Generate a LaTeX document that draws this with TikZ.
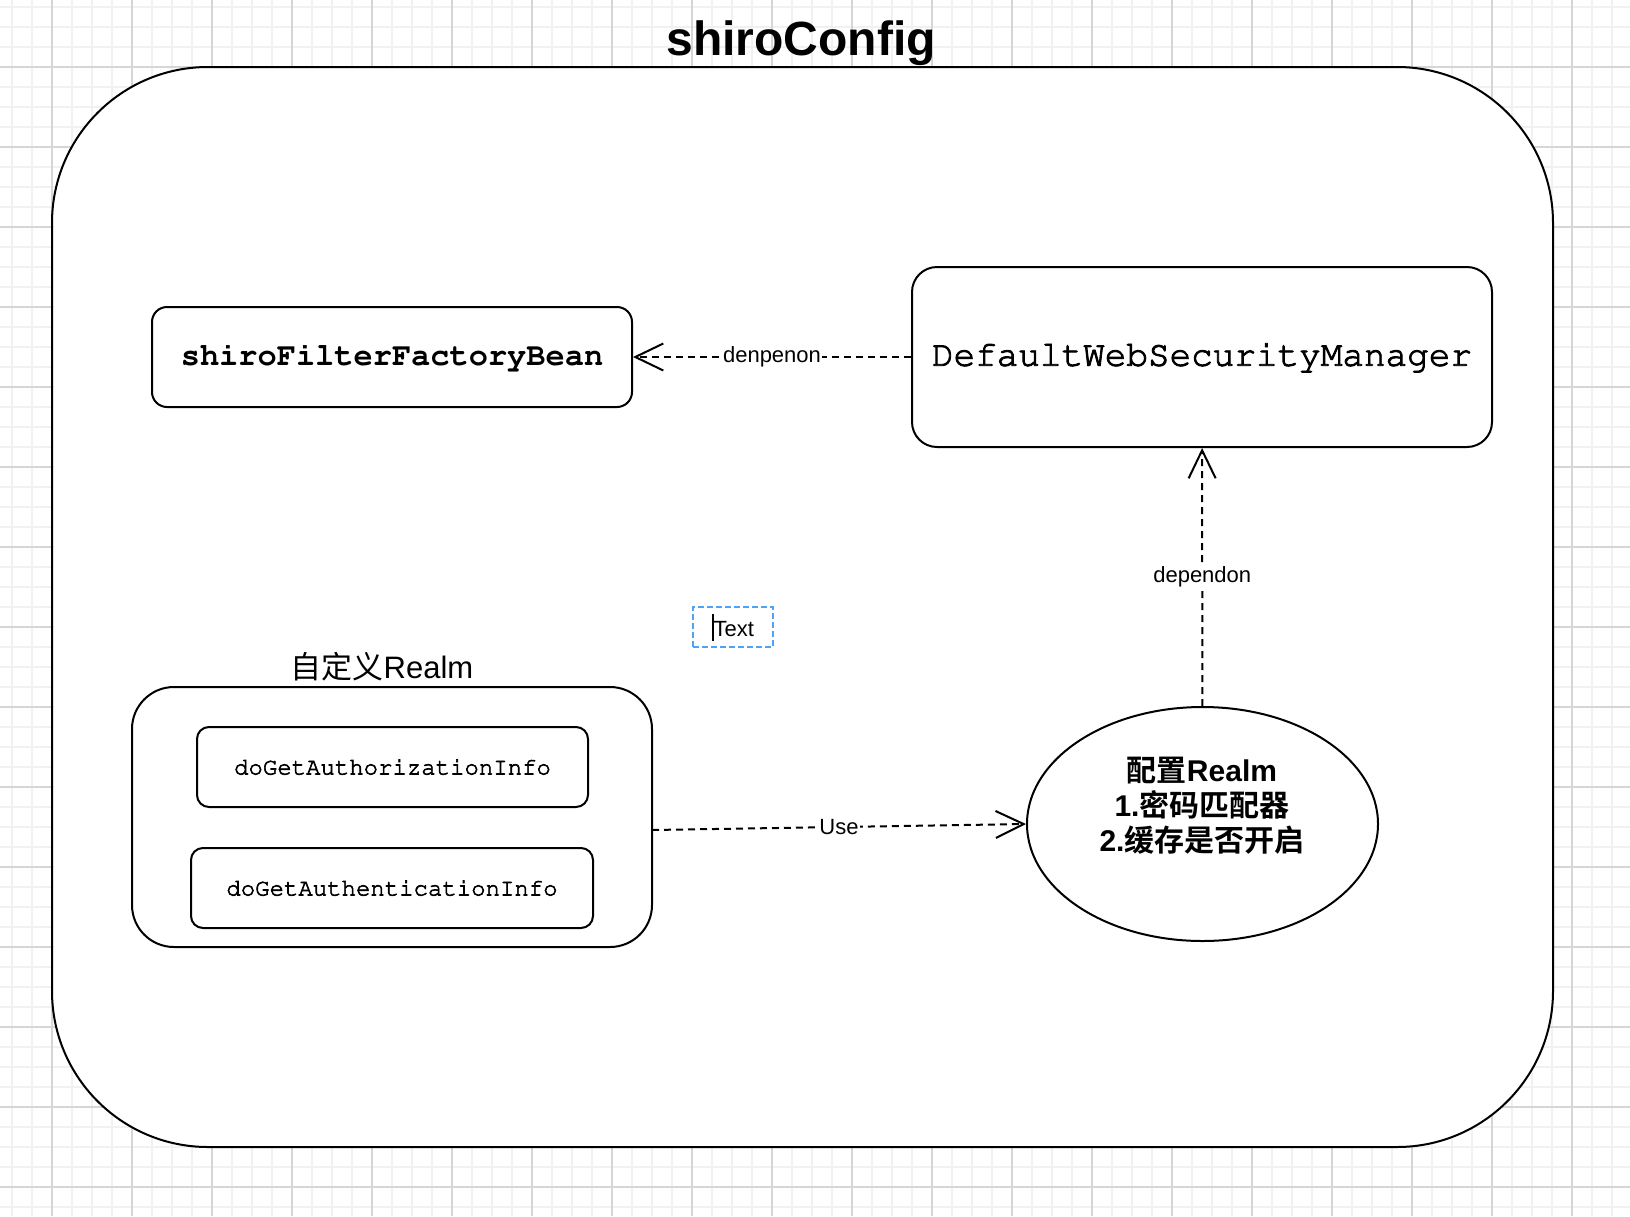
\documentclass[tikz,border=0pt]{standalone}
\usepackage[T1]{fontenc}
\usepackage{fontspec}
\setmainfont{Liberation Sans}
\setmonofont{Liberation Mono}
\newfontfamily\cjk{Noto Sans CJK SC}[BoldFont={Noto Sans CJK SC Bold}]
\usetikzlibrary{arrows.meta,shapes.geometric}
\definecolor{gridminor}{RGB}{241,241,241}
\definecolor{gridmajor}{RGB}{214,214,214}
\definecolor{selblue}{RGB}{77,163,245}
\newcommand{\setfs}[1]{\fontsize{#1}{#1}\selectfont}
\newcommand{\courierfam}{\fontencoding{T1}\fontfamily{pcr}\selectfont}
\newcommand{\heavytext}[2]{\special{pdf:literal direct 2 Tr #1 w}#2\special{pdf:literal direct 0 Tr}}
\begin{document}
\begin{tikzpicture}[x=1pt,y=-1pt,
  roundbox/.style={draw,line width=2pt,fill=white,rectangle,inner sep=0pt},
  deparrow/.style={line width=2pt,dash pattern=on 7pt off 5pt,-{Straight Barb[length=28pt,width=27pt]}},
  lbl/.style={fill=white,inner sep=1.5pt,font=\setfs{22}},
  minorline/.style={draw=gridminor,line width=1.2pt},
  majorline/.style={draw=gridmajor,line width=1.2pt}]
\useasboundingbox (0,0) rectangle (1630,1216);
% background grid
\foreach \x in {12,32,...,1632} \draw[minorline] (\x,0) -- (\x,1216);
\foreach \y in {7,27,...,1216} \draw[minorline] (0,\y) -- (1630,\y);
\foreach \x in {52,132,...,1632} \draw[majorline] (\x,0) -- (\x,1216);
\foreach \y in {67,147,...,1216} \draw[majorline] (0,\y) -- (1630,\y);
% container
\node[roundbox,rounded corners=156pt,minimum width=1501pt,minimum height=1080pt] (config) at (802.5,607) {};
\node[anchor=base,font=\bfseries\setfs{48}] (title) at (801,55) {shiroConfig};
% boxes
\node[roundbox,rounded corners=15pt,minimum width=480pt,minimum height=100pt,font=\courierfam\bfseries\setfs{32}] (sffb) at (392,357) {shiroFilterFactoryBean};
\node[roundbox,rounded corners=25pt,minimum width=580pt,minimum height=180pt,font=\courierfam\setfs{36}] (dwsm) at (1202,357) {\heavytext{0.9}{DefaultWebSecurityManager}};
\node[roundbox,rounded corners=42pt,minimum width=520pt,minimum height=260pt] (realm) at (392,817) {};
\node[anchor=base,font=\setfs{31}] (realmlbl) at (382,678) {{\cjk 自定义}Realm};
\node[roundbox,rounded corners=12pt,minimum width=391pt,minimum height=80pt,font=\courierfam\setfs{24}] (authz) at (392.5,767) {\heavytext{0.6}{doGetAuthorizationInfo}};
\node[roundbox,rounded corners=12pt,minimum width=402pt,minimum height=80pt,font=\courierfam\setfs{24}] (authc) at (392,888) {\heavytext{0.6}{doGetAuthenticationInfo}};
\node[draw,ellipse,line width=2pt,fill=white,minimum width=351pt,minimum height=234pt,inner sep=0pt] (realmcfg) at (1202.5,824) {};
\node[align=center,font=\bfseries\fontsize{30}{35}\selectfont] (realmcfgtxt) at (1202,806) {{\cjk 配置}Realm\\1.{\cjk 密码匹配器}\\2.{\cjk 缓存是否开启}};
\node[draw=selblue,line width=2pt,dash pattern=on 6pt off 3pt,minimum width=80pt,minimum height=40pt,inner sep=0pt,font=\setfs{22}] (textbox) at (733,627) {\rule[-4pt]{1.5pt}{27pt}Text};
% connectors
\coordinate (usestart) at (652,830);
\draw[deparrow] (dwsm) -- node[lbl] {denpenon} (sffb);
\draw[deparrow] (realmcfg) -- node[lbl] {dependon} (dwsm);
\draw[deparrow] (usestart) -- node[lbl] {Use} (realmcfg.west);
\end{tikzpicture}
\end{document}
